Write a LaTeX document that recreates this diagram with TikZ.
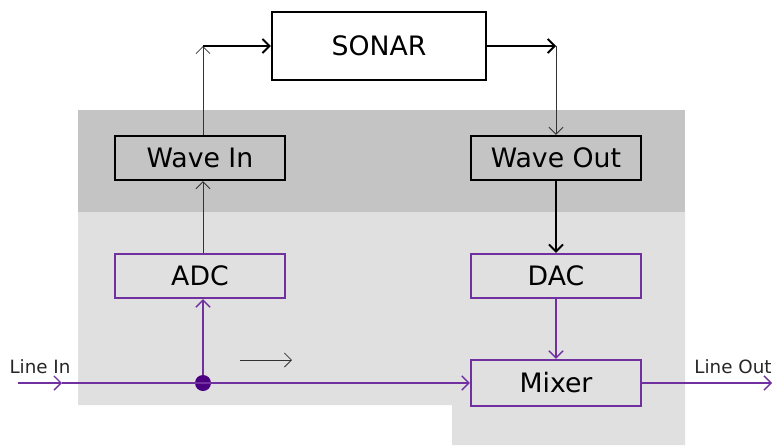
\documentclass[tikz,border=0pt]{standalone}
\usepackage{fontspec}
\setmainfont{DejaVu Sans}
\usepackage{xcolor}
\usetikzlibrary{arrows.meta, positioning, calc}

\definecolor{wirepurple}{RGB}{112,48,160}
\definecolor{dotpurple}{RGB}{75,0,130}
\definecolor{darkzone}{RGB}{196,196,196}
\definecolor{lightzone}{RGB}{224,224,224}

\begin{document}
\begin{tikzpicture}[
  x=0.025cm, y=-0.025cm,
  softbox/.style={
    rectangle, draw=black, line width=1.7pt,
    minimum width=4.25cm, minimum height=1.1cm,
    font=\fontsize{19}{21}\selectfont, inner sep=0pt
  },
  hardbox/.style={softbox, draw=wirepurple},
  arr/.style={-{Straight Barb[length=5pt, width=10pt]}, line width=1.3pt, draw=black},
  thinarr/.style={-{Straight Barb[length=5pt, width=10pt]}, line width=0.6pt, draw=black!80},
  parr/.style={-{Straight Barb[length=5pt, width=10pt]}, line width=1pt, draw=wirepurple},
  lbl/.style={font=\fontsize{13}{15}\selectfont, text=black!85}
]

\useasboundingbox (0,0) rectangle (779,448);

%% Software and hardware zones
\fill[lightzone] (78,212) -- (685,212) -- (685,445) -- (452,445)
  -- (452,405) -- (78,405) -- cycle;
\fill[darkzone] (78,110) rectangle (685,212);

%% Boxes
\node[softbox, minimum width=5.35cm, minimum height=1.7cm,
  fill=white] (sonar) at (379,46) {SONAR};
\node[softbox]  (wavein)  at (200,158) {Wave In};
\node[softbox]  (waveout) at (556,158) {Wave Out};
\node[hardbox]  (adc)     at (200,276) {ADC};
\node[hardbox]  (dac)     at (556,276) {DAC};
\node[hardbox, minimum height=1.15cm] (mixer) at (556,383) {Mixer};

%% Line in / line out
\coordinate (linein)  at (18,383);
\coordinate (inhead)  at (62,383);
\coordinate (lineout) at (772,383);
\node[circle, fill=dotpurple, inner sep=0pt, minimum size=0.4cm] (tap) at (203,383) {};
\node[lbl] (inlbl)  at (40,367)  {Line In};
\node[lbl] (outlbl) at (733,367) {Line Out};

\draw[parr] (linein) -- (inhead);
\draw[parr] (inhead) -- (mixer.west);
\draw[parr] (tap) -- (tap |- adc.south);
\draw[parr] (mixer) -- (lineout);
\draw[parr] (dac) -- (mixer);

%% Recording path
\coordinate (upturn) at (203,46);
\draw[thinarr] (adc.north -| tap) -- (wavein.south -| tap);
\draw[thinarr] (wavein.north -| tap) -- (upturn);
\draw[arr] (upturn) -- (sonar.west);

%% Playback path
\coordinate (downturn) at (556,46);
\draw[arr] (sonar.east) -- (downturn);
\draw[thinarr] (downturn) -- (waveout.north);
\draw[arr] (waveout) -- (dac);

%% Direction hint
\coordinate (hintfrom) at (240,360);
\coordinate (hintto)   at (292,360);
\draw[thinarr] (hintfrom) -- (hintto);

\end{tikzpicture}
\end{document}
